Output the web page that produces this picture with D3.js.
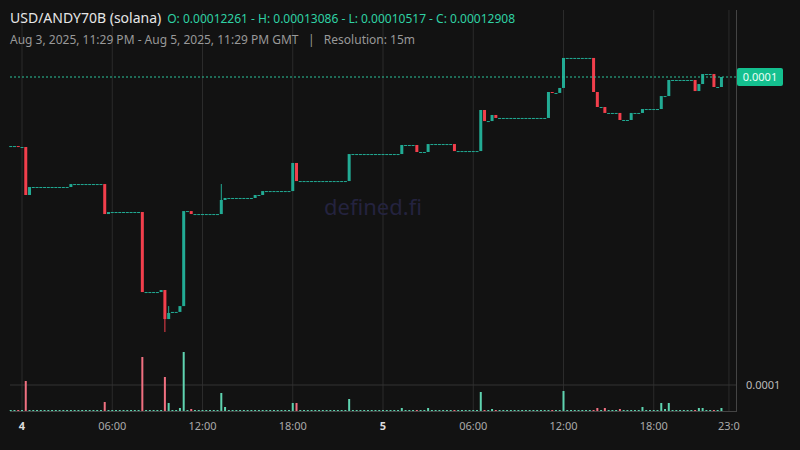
<!DOCTYPE html>
<html><head><meta charset="utf-8">
<script src="https://cdn.jsdelivr.net/npm/d3@7"></script>
<style>body{margin:0;background:#121212}svg{display:block}</style>
</head><body><svg id="chart"></svg>
<script>
// price moves: [candle index, close]; candles in between stay flat
const startClose = 0.00012259;
const moves = [[2,0.00012250],[4,0.00011799],[5,0.00011874],[16,0.00011902],[25,0.00011620],[26,0.00011639],
  [35,0.00010887],[40,0.00010906],[41,0.00010633],[42,0.00010690],[43,0.00010700],[45,0.00010755],[46,0.00011648],
  [48,0.00011620],[56,0.00011752],[57,0.00011771],[65,0.00011799],[67,0.00011836],[75,0.00012100],[76,0.00011930],
  [90,0.00012184],[104,0.00012269],[108,0.00012203],[111,0.00012278],[118,0.00012212],[125,0.00012598],[126,0.00012494],
  [128,0.00012551],[129,0.00012523],[143,0.00012767],[144,0.00012758],[146,0.00012805],[147,0.00013087],[155,0.00012767],
  [156,0.00012626],[158,0.00012570],[162,0.00012504],[165,0.00012570],[168,0.00012607],[173,0.00012729],[175,0.00012880],
  [182,0.00012776],[183,0.00012842],[184,0.00012936],[187,0.00012814],[189,0.00012908]];
const wickLows = [[41,0.00010511]];
const wickHighs = [[42,0.00010755],[56,0.00011902]];
const volumes = [[4,30],[16,1],[25,9],[35,54],[41,34],[42,8],[45,3],[46,59],[48,2],[56,18],[57,4],[67,1],[75,8],[76,8],
  [90,12],[104,3],[111,3],[125,19],[128,2],[129,1],[143,1],[147,20],[155,1],[156,3],[158,3],[162,2],[168,4],[173,8],
  [174,2],[175,8],[182,1],[183,3],[184,3],[187,1],[189,3]];
const candleCount = 190;
const xTicks = [["2025-08-04T00:00Z","4",true],["2025-08-04T06:00Z","06:00"],["2025-08-04T12:00Z","12:00"],
  ["2025-08-04T18:00Z","18:00"],["2025-08-05T00:00Z","5",true],["2025-08-05T06:00Z","06:00"],
  ["2025-08-05T12:00Z","12:00"],["2025-08-05T18:00Z","18:00"],["2025-08-05T23:00Z","23:0"]];
const lastPrice = 0.00012908;

const width = 800, height = 450;
const green = "#22ab94", red = "#f23f4c", volGreen = "#5fd3b0", volRed = "#f07080";
const svg = d3.select("#chart").attr("width", width).attr("height", height);
svg.append("rect").attr("width", width).attr("height", height).attr("fill", "#121212");

const t0 = new Date("2025-08-03T23:15Z");
const timeOf = i => new Date(+t0 + i * 15 * 60000);
const x = d3.scaleTime()
  .domain([new Date("2025-08-04T00:00Z"), new Date("2025-08-05T00:00Z")])
  .range([22, 383]);
const y = d3.scaleLinear().domain([0.00012908, 0.00010517]).range([77, 331.4]);
const yVol = d3.scaleLinear().domain([0, 26]).range([411, 385]);

// build candles
const moveMap = new Map(moves), volMap = new Map(volumes);
const lowMap = new Map(wickLows), highMap = new Map(wickHighs);
let prev = startClose;
const candles = d3.range(candleCount).map(i => {
  const close = moveMap.has(i) ? moveMap.get(i) : prev;
  const c = {i, t: timeOf(i), open: prev, close, vol: volMap.has(i) ? volMap.get(i) : 0.3};
  c.high = highMap.has(i) ? highMap.get(i) : Math.max(c.open, c.close);
  c.low = lowMap.has(i) ? lowMap.get(i) : Math.min(c.open, c.close);
  c.up = close >= prev;
  prev = close;
  return c;
});

// grid
svg.append("g").selectAll("line").data(xTicks).join("line")
  .attr("x1", d => x(new Date(d[0]))).attr("x2", d => x(new Date(d[0])))
  .attr("y1", 10).attr("y2", 411).attr("stroke", "#2b2b2b");
svg.append("line").attr("x1", 10).attr("x2", 737).attr("y1", 385).attr("y2", 385).attr("stroke", "#333");
svg.append("line").attr("x1", 10).attr("x2", 737).attr("y1", 411.5).attr("y2", 411.5).attr("stroke", "#444");
svg.append("line").attr("x1", 736.5).attr("x2", 736.5).attr("y1", 10).attr("y2", 412).attr("stroke", "#444");

// volume
svg.append("g").selectAll("rect").data(candles).join("rect")
  .attr("x", d => x(d.t) - 1).attr("width", 2)
  .attr("y", d => Math.min(yVol(d.vol), 410)).attr("height", d => Math.max(411 - yVol(d.vol), 1))
  .attr("fill", d => d.up ? volGreen : volRed);

// wicks
svg.append("g").selectAll("line").data(candles.filter(d => d.high > Math.max(d.open, d.close) || d.low < Math.min(d.open, d.close))).join("line")
  .attr("x1", d => x(d.t)).attr("x2", d => x(d.t))
  .attr("y1", d => y(d.high)).attr("y2", d => y(d.low))
  .attr("stroke", d => d.up ? green : red);

// bodies
svg.append("g").selectAll("rect").data(candles).join("rect")
  .attr("x", d => x(d.t) - 1.5).attr("width", 3)
  .attr("y", d => Math.min(y(d.open), y(d.close)))
  .attr("height", d => Math.max(Math.abs(y(d.open) - y(d.close)), 1))
  .attr("fill", d => d.up ? green : red);

// last price line + label
svg.append("line").attr("x1", 10).attr("x2", 737).attr("y1", y(lastPrice)).attr("y2", y(lastPrice))
  .attr("stroke", "#2bc49a").attr("stroke-dasharray", "2,2");
svg.append("rect").attr("x", 737).attr("y", y(lastPrice) - 9).attr("width", 46).attr("height", 18).attr("rx", 2).attr("fill", "#14c08f");
svg.append("text").attr("x", 760).attr("y", y(lastPrice) + 4).attr("text-anchor", "middle")
  .attr("fill", "#eafff6").style("font", "11px 'Noto Sans'").text("0.0001");
svg.append("text").attr("x", 746).attr("y", yVol(26) + 4).attr("fill", "#bbb").style("font", "11px 'Noto Sans'").text("0.0001");

// x labels
svg.append("g").selectAll("text").data(xTicks).join("text")
  .attr("x", d => x(new Date(d[0]))).attr("y", 430).attr("text-anchor", "middle")
  .attr("fill", d => d[2] ? "#ddd" : "#aaa").style("font", d => (d[2] ? "bold " : "") + "11px 'Noto Sans'")
  .text(d => d[1]);

// watermark
svg.append("text").attr("x", 373).attr("y", 215).attr("text-anchor", "middle")
  .attr("fill", "#24233f").style("font", "22px 'Noto Sans'").text("defined.fi");

// header
const h = svg.append("text").attr("x", 10).attr("y", 23).style("font", "14px 'Noto Sans'");
h.append("tspan").attr("fill", "#e6e6e6").text("USD/ANDY70B (solana)");
h.append("tspan").attr("fill", "#2fd1a4").attr("dx", 6).style("font-size", "12px")
  .text("O: 0.00012261 - H: 0.00013086 - L: 0.00010517 - C: 0.00012908");
svg.append("text").attr("x", 10).attr("y", 44).attr("fill", "#999").style("font", "12px 'Noto Sans'")
  .attr("xml:space", "preserve")
  .text("Aug 3, 2025, 11:29 PM - Aug 5, 2025, 11:29 PM GMT   |   Resolution: 15m");
</script></body></html>
